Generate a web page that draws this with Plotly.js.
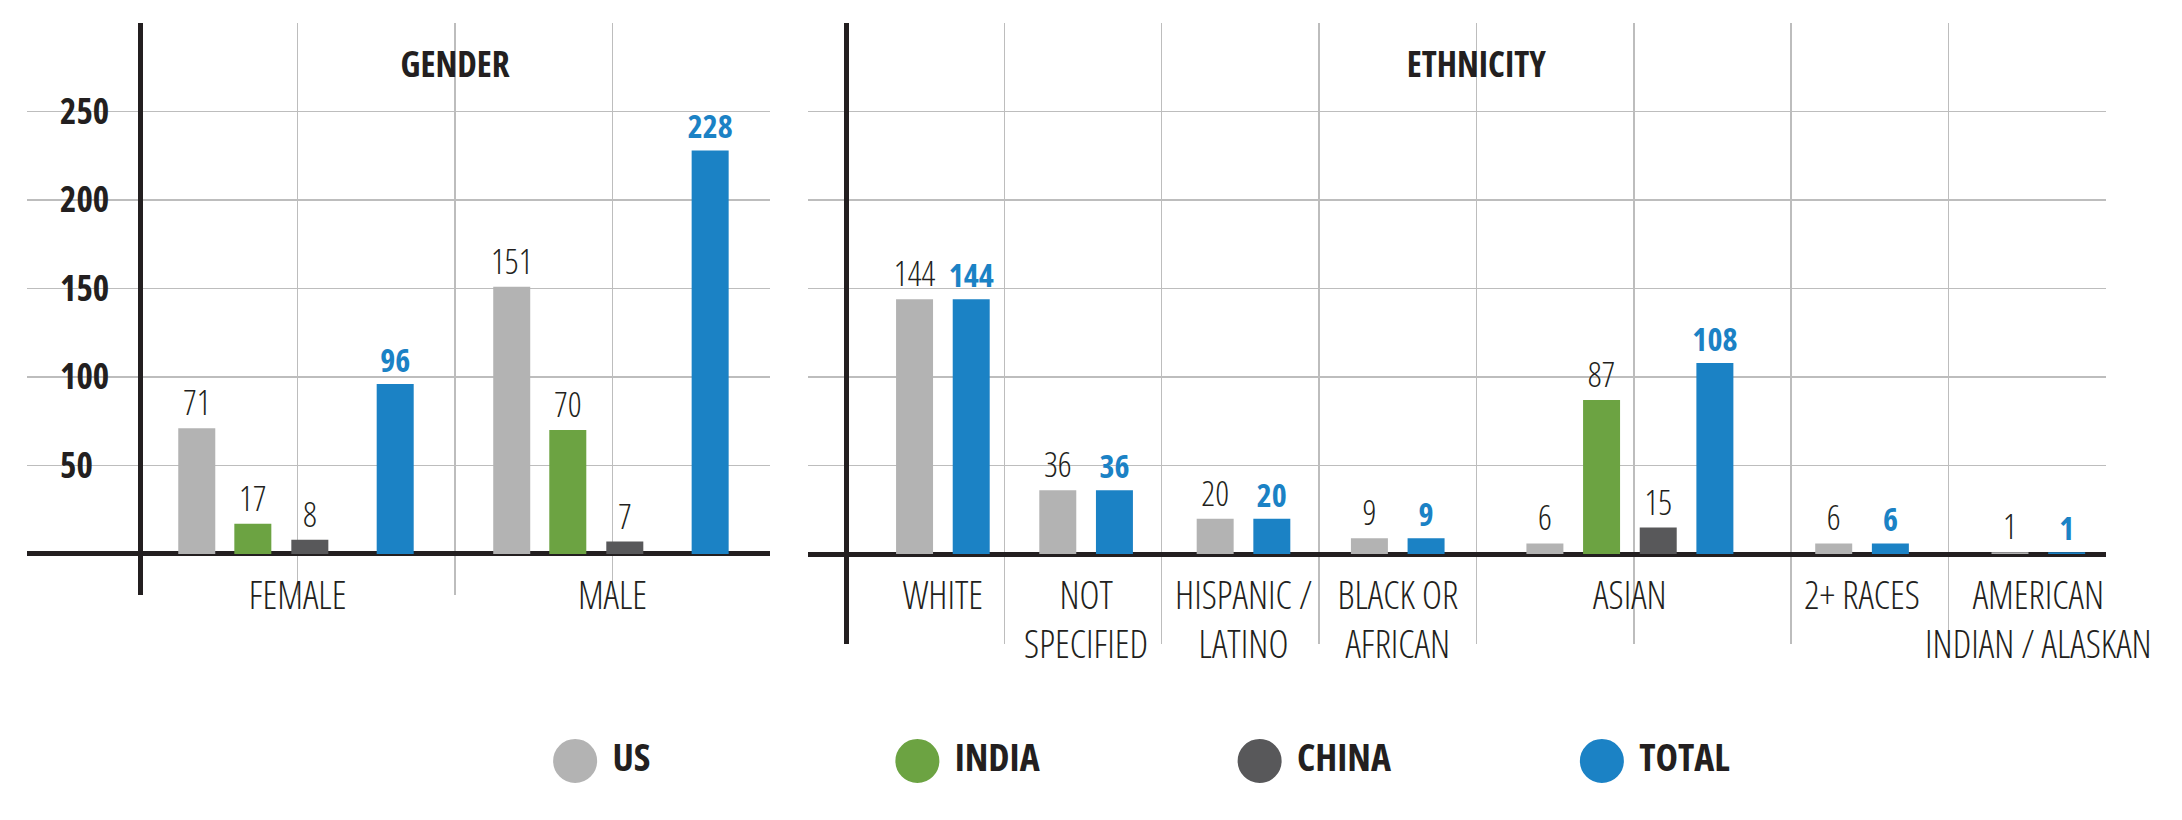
<!DOCTYPE html>
<html>
<head>
<meta charset="utf-8">
<script src="https://cdn.plot.ly/plotly-3.0.1.min.js"></script>
<style>
html,body{margin:0;padding:0;background:#fff;}
#chart text{font-stretch:75%;}
</style>
</head>
<body>
<div id="chart" style="width:2182px;height:820px;"></div>
<script>
// ---------- DATA ----------
const seriesNames = ['US', 'INDIA', 'CHINA', 'TOTAL'];

const genderCats  = ['FEMALE', 'MALE'];
const genderUS    = [71, 151];
const genderIndia = [17, 70];
const genderChina = [8, 7];
const genderTotal = [96, 228];

const ethCats  = ['WHITE', 'NOT<br>SPECIFIED', 'HISPANIC /<br>LATINO', 'BLACK OR<br>AFRICAN', 'ASIAN', '2+ RACES', 'AMERICAN<br>INDIAN / ALASKAN'];
const ethUS    = [144, 36, 20, 9, 6, 6, 1];
const ethIndia = [null, null, null, null, 87, null, null];
const ethChina = [null, null, null, null, 15, null, null];
const ethTotal = [144, 36, 20, 9, 108, 6, 1];

const yTicks = [50, 100, 150, 200, 250];

// ---------- STYLE / LAYOUT CONFIG ----------
const FONT = '"Open Sans", "Roboto", sans-serif';
const DARK = '#231f20';
const GRID = '#bdbdbd';
const COLORS = {US: '#b3b3b3', INDIA: '#6ca342', CHINA: '#58585a', TOTAL: '#1b82c5'};
const BAR_W = 0.235;
const genderSlots = [2, 2];
const ethSlots = [1, 1, 1, 1, 2, 1, 1];
const ethGroupShift = [0.11, 0.02, 0.02, 0, -0.025, -0.05, 0.07];
const genderOffsets = {US: -0.64, INDIA: -0.284, CHINA: 0.078, TOTAL: 0.62};
const ETH_STEP = 0.36;

function slotCenters(widths) {
  let acc = 0;
  return widths.map(w => { const c = acc + w / 2; acc += w; return c; });
}
function gridVals(widths) {
  const total = widths.reduce((a, b) => a + b, 0);
  const out = [];
  for (let i = 1; i < total; i++) out.push(i);
  return out;
}
const gCenters = slotCenters(genderSlots);
const eCenters = slotCenters(ethSlots).map((c, i) => c + ethGroupShift[i]);

const genderSeries = {US: genderUS, INDIA: genderIndia, CHINA: genderChina, TOTAL: genderTotal};
const ethSeries = {US: ethUS, INDIA: ethIndia, CHINA: ethChina, TOTAL: ethTotal};

function ethOffset(name, i) {
  const present = seriesNames.filter(s => ethSeries[s][i] !== null);
  const k = present.indexOf(name);
  const n = present.length;
  return (k - (n - 1) / 2) * ETH_STEP;
}

function textFont(name) {
  return name === 'TOTAL'
    ? {family: FONT, size: 32, color: COLORS.TOTAL, weight: 700}
    : {family: FONT, size: 34, color: DARK, weight: 300};
}

const traces = [];
seriesNames.forEach(name => {
  const vals = genderSeries[name];
  traces.push({
    type: 'bar', name: name, x: gCenters, y: vals,
    xaxis: 'x', yaxis: 'y',
    width: BAR_W,
    offset: vals.map(() => genderOffsets[name] - BAR_W / 2),
    marker: {color: COLORS[name], line: {width: 0}},
    texttemplate: '%{y}', textposition: 'outside', cliponaxis: false, constraintext: 'none',
    textfont: textFont(name), showlegend: false, hoverinfo: 'skip'
  });
});
seriesNames.forEach(name => {
  const vals = ethSeries[name];
  // US & TOTAL on the grid axis, INDIA & CHINA on the overlaid label axis (same scale)
  const xa = (name === 'US' || name === 'TOTAL') ? 'x2' : 'x4';
  traces.push({
    type: 'bar', name: name, x: eCenters, y: vals,
    xaxis: xa, yaxis: 'y2',
    width: BAR_W,
    offset: vals.map((v, i) => (v === null ? 0 : ethOffset(name, i)) - BAR_W / 2),
    marker: {color: COLORS[name], line: {width: 0}},
    texttemplate: '%{y}', textposition: 'outside', cliponaxis: false, constraintext: 'none',
    textfont: textFont(name), showlegend: false, hoverinfo: 'skip'
  });
});
// legend row drawn as markers + names
traces.push({
  type: 'scatter', mode: 'markers+text', x: seriesNames, y: seriesNames.map(() => 0),
  xaxis: 'x3', yaxis: 'y3',
  text: seriesNames, textposition: 'middle right',
  marker: {size: 58, color: seriesNames.map(s => COLORS[s]), line: {color: '#ffffff', width: 14}},
  textfont: {family: FONT, size: 38, color: DARK, weight: 700},
  showlegend: false, hoverinfo: 'skip', cliponaxis: false
});

const H = 820, W = 2182;
const yTop = 1 - 23 / H;
const labelPos = 1 - 570 / H;
const tickFontCat = {family: FONT, size: 38, color: DARK, weight: 300};
const XR1 = [-0.718, 4];
const XR2 = [-0.247, 8];

const layout = {
  width: W, height: H,
  margin: {l: 0, r: 0, t: 0, b: 0, pad: 0},
  paper_bgcolor: '#ffffff', plot_bgcolor: 'rgba(0,0,0,0)',
  font: {family: FONT},
  barmode: 'overlay', showlegend: false,
  xaxis: {
    domain: [27 / W, 770 / W], range: XR1,
    tickmode: 'array', tickvals: gridVals(genderSlots),
    ticktext: gridVals(genderSlots).map(v => { const i = gCenters.indexOf(v); return i >= 0 ? genderCats[i] : ''; }),
    showgrid: true, gridcolor: GRID, gridwidth: 1.5,
    zeroline: true, zerolinecolor: DARK, zerolinewidth: 5,
    showline: false, ticks: '', anchor: 'free', position: labelPos, tickangle: 0,
    ticklabeloverflow: 'allow',
    tickfont: tickFontCat, fixedrange: true
  },
  yaxis: {
    domain: [1 - 595 / H, yTop], range: [-23.2, 300],
    tickmode: 'array', tickvals: yTicks,
    showgrid: true, gridcolor: GRID, gridwidth: 1.5,
    zeroline: true, zerolinecolor: DARK, zerolinewidth: 5,
    showline: false, ticks: '', anchor: 'x',
    ticklabelposition: 'inside', ticklabelstandoff: 30, ticklabeloverflow: 'allow',
    tickfont: {family: FONT, size: 35, color: DARK, weight: 700}, fixedrange: true
  },
  xaxis2: {
    domain: [808 / W, 2106 / W], range: XR2,
    tickmode: 'array', tickvals: gridVals(ethSlots), showticklabels: false,
    showgrid: true, gridcolor: GRID, gridwidth: 1.5,
    zeroline: true, zerolinecolor: DARK, zerolinewidth: 5,
    showline: false, ticks: '', anchor: 'y2', fixedrange: true
  },
  xaxis4: {
    overlaying: 'x2', range: XR2,
    tickmode: 'array', tickvals: eCenters, ticktext: ethCats,
    showgrid: false, zeroline: false, showline: false, ticks: '',
    anchor: 'free', position: labelPos, side: 'bottom', tickangle: 0,
    ticklabeloverflow: 'allow',
    tickfont: tickFontCat, fixedrange: true
  },
  yaxis2: {
    domain: [1 - 644 / H, yTop], range: [-50.8, 300],
    tickmode: 'array', tickvals: yTicks, showticklabels: false,
    showgrid: true, gridcolor: GRID, gridwidth: 1.5,
    zeroline: true, zerolinecolor: DARK, zerolinewidth: 5,
    showline: false, ticks: '', anchor: 'x2', fixedrange: true
  },
  xaxis3: {
    domain: [404 / W, 1773 / W], type: 'category', range: [-0.5, 3.5],
    visible: false, anchor: 'y3', fixedrange: true
  },
  yaxis3: {
    domain: [0, 118 / H], range: [-1, 1], visible: false, anchor: 'x3', fixedrange: true
  },
  annotations: [
    {text: 'GENDER', xref: 'x', x: 2, yref: 'paper', y: 1 - 64 / H, yanchor: 'middle', xanchor: 'center',
     showarrow: false, font: {family: FONT, size: 35, color: DARK, weight: 700}},
    {text: 'ETHNICITY', xref: 'x2', x: 4, yref: 'paper', y: 1 - 64 / H, yanchor: 'middle', xanchor: 'center',
     showarrow: false, font: {family: FONT, size: 35, color: DARK, weight: 700}}
  ]
};

Plotly.newPlot('chart', traces, layout, {displayModeBar: false, staticPlot: true});
</script>
</body>
</html>
